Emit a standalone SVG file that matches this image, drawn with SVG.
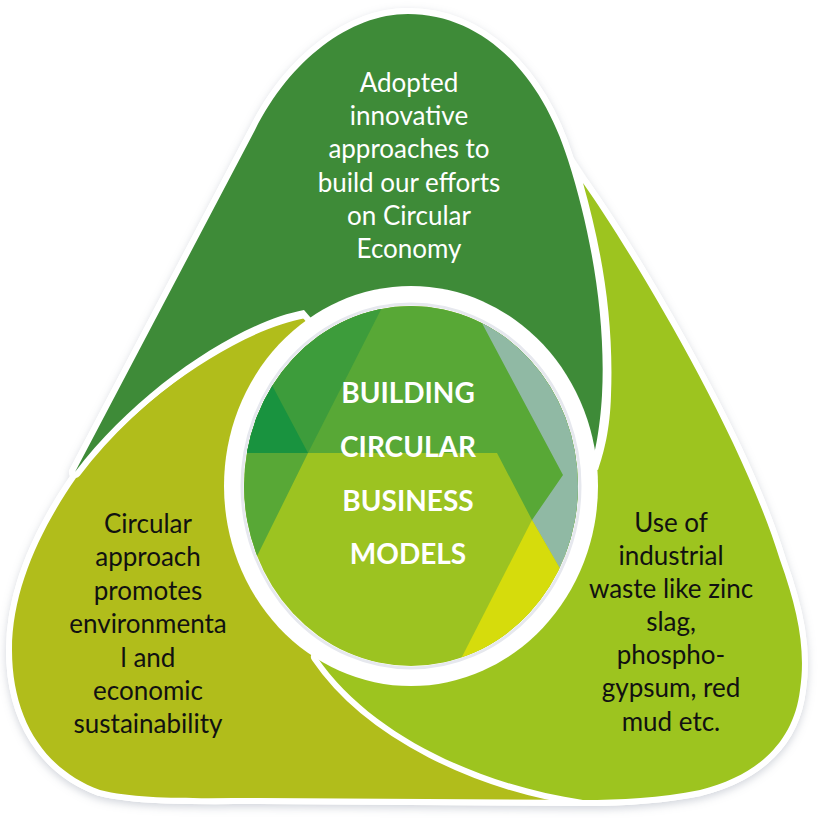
<svg xmlns="http://www.w3.org/2000/svg" width="818" height="818" viewBox="0 0 818 818">
  <defs>
    <style>
      .petal { stroke: #ffffff; stroke-width: 12; stroke-linejoin: round; paint-order: stroke; }
      .lbl { font-family: Lato, "Liberation Sans", sans-serif; font-size: 26px; text-anchor: middle; }
      .lbl-w { fill: #ffffff; }
      .lbl-k { fill: #111111; }
      .hub { font-family: Lato, "Liberation Sans", sans-serif; font-size: 28px; font-weight: bold; fill: #ffffff; text-anchor: middle; }
    </style>
    <clipPath id="hubClip">
      <ellipse cx="411" cy="486" rx="167" ry="180"/>
    </clipPath>
    <filter id="soft" x="-10%" y="-10%" width="120%" height="120%">
      <feDropShadow dx="0" dy="3" stdDeviation="4" flood-color="#9aa0b0" flood-opacity="0.45"/>
    </filter>
  </defs>
  <rect width="818" height="818" fill="#ffffff"/>

  <g id="shadow" filter="url(#soft)" fill="#ffffff">
    <path d="M 75 472 L 255 130 C 290 60, 350 14, 408 14 C 480 14, 540 70, 568 160 L 583 183 C 630 250, 740 430, 780 560 C 798 610, 806 650, 800 690 C 794 740, 760 775, 700 790 C 660 798, 620 800, 583 800 L 260 798 C 200 798, 140 800, 100 790 C 45 770, 12 720, 12 650 C 12 590, 40 530, 76 478 Z" stroke="#ffffff" stroke-width="12" stroke-linejoin="round"/>
  </g>

  <g id="petal-left">
    <path class="petal" fill="#b1bd1b" d="M 306 318 C 240 330, 140 395, 76 478 C 40 530, 12 590, 12 650 C 12 720, 45 770, 100 790 C 140 800, 200 798, 260 798 L 595 800 L 600 700 L 420 560 Z"/>
    <text class="lbl lbl-k" x="148" y="533">Circular</text>
    <text class="lbl lbl-k" x="148" y="566">approach</text>
    <text class="lbl lbl-k" x="148" y="600">promotes</text>
    <text class="lbl lbl-k" x="148" y="633">environmenta</text>
    <text class="lbl lbl-k" x="148" y="667">l and</text>
    <text class="lbl lbl-k" x="148" y="700">economic</text>
    <text class="lbl lbl-k" x="148" y="733">sustainability</text>
  </g>

  <g id="petal-right">
    <path class="petal" fill="#9dc41f" d="M 583 183 C 630 250, 740 430, 780 560 C 798 610, 806 650, 800 690 C 794 740, 760 775, 700 790 C 660 798, 620 800, 583 800 C 480 785, 370 735, 317 657 L 420 560 L 560 460 L 598 470 C 604 452, 610 430, 611 395 C 614 320, 602 250, 583 183 Z"/>
    <text class="lbl lbl-k" x="671" y="532">Use of</text>
    <text class="lbl lbl-k" x="671" y="565">industrial</text>
    <text class="lbl lbl-k" x="671" y="598">waste like zinc</text>
    <text class="lbl lbl-k" x="671" y="631">slag,</text>
    <text class="lbl lbl-k" x="671" y="664">phospho-</text>
    <text class="lbl lbl-k" x="671" y="697">gypsum, red</text>
    <text class="lbl lbl-k" x="671" y="731">mud etc.</text>
  </g>

  <g id="petal-top">
    <path class="petal" fill="#3e8b38" d="M 75 472 L 255 130 C 290 60, 350 14, 408 14 C 480 14, 540 70, 568 160 C 592 235, 606 320, 602 395 C 600 430, 595 452, 590 472 L 520 470 L 330 340 L 304 310 C 240 322, 140 387, 75 472 Z"/>
    <text class="lbl lbl-w" x="409" y="92">Adopted</text>
    <text class="lbl lbl-w" x="409" y="125">innovative</text>
    <text class="lbl lbl-w" x="409" y="158">approaches to</text>
    <text class="lbl lbl-w" x="409" y="192">build our efforts</text>
    <text class="lbl lbl-w" x="409" y="225">on Circular</text>
    <text class="lbl lbl-w" x="409" y="258">Economy</text>
  </g>

  <g id="hub">
    <ellipse cx="411" cy="486" rx="187" ry="200" fill="#ffffff"/>
    <g clip-path="url(#hubClip)">
      <rect x="230" y="290" width="370" height="390" fill="#9cc321"/>
      <path fill="#58a836" d="M 220 280 L 620 280 L 620 600 L 532 520 L 497 453 L 308 453 L 228 615 Z"/>
      <path fill="#3d9c3b" d="M 220 280 L 396 280 L 308 453 L 220 453 Z"/>
      <path fill="#19933f" d="M 308 453 L 240 325 L 220 325 L 220 453 Z"/>
      <path fill="#90b9a4" d="M 459 280 L 563 475 L 532 520 L 575 595 L 640 595 L 640 280 Z"/>
      <path fill="#d6dc0c" d="M 532 520 L 610 655 L 445 690 Z"/>
    </g>
    <ellipse cx="411" cy="486" rx="169" ry="182" fill="none" stroke="#e6e8ee" stroke-width="3"/>
    <text class="hub" x="408" y="403">BUILDING</text>
    <text class="hub" x="408" y="457">CIRCULAR</text>
    <text class="hub" x="408" y="511">BUSINESS</text>
    <text class="hub" x="408" y="564">MODELS</text>
  </g>

  <g id="connectors"/>
</svg>
